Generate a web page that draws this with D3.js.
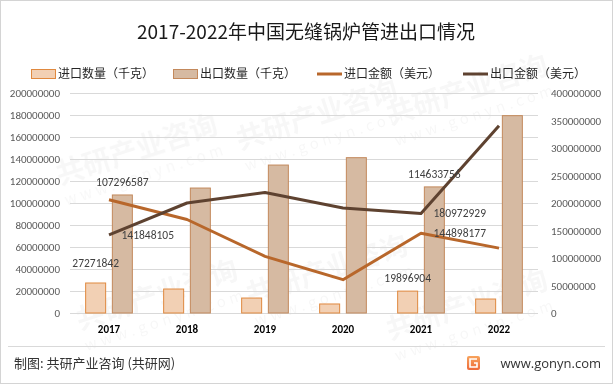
<!DOCTYPE html>
<html><head><meta charset="utf-8">
<script src="https://cdn.jsdelivr.net/npm/d3@7/dist/d3.min.js"></script>
<style>body{margin:0;background:#fff;}svg{display:block;font-family:"Microsoft YaHei","Noto Sans CJK SC",sans-serif;}</style>
</head><body><svg id="c" width="613" height="384"></svg>
<script>
const years = ["2017","2018","2019","2020","2021","2022"];
const importQty = [27271842, 21800000, 13600000, 8200000, 19896904, 12700000];
const exportQty = [107296587, 113600000, 134500000, 141200000, 114633756, 179400000];
const importAmt = [206000000, 170000000, 103000000, 60600000, 144898177, 118000000];
const exportAmt = [141848105, 200000000, 219000000, 191000000, 180972929, 340600000];
const leftTicks = [0,20000000,40000000,60000000,80000000,100000000,120000000,140000000,160000000,180000000,200000000];
const rightTicks = [0,50000000,100000000,150000000,200000000,250000000,300000000,350000000,400000000];
const seriesNames = ["进口数量（千克）","出口数量（千克）","进口金额（美元）","出口金额（美元）"];
const title = "2017-2022年中国无缝锅炉管进出口情况";
// labelled points: [series, index]
const barLabels = [["importQty",0],["exportQty",0],["importQty",4],["exportQty",4]];
const lineLabels = [["exportAmt",0],["exportAmt",4],["importAmt",4]];

const svg = d3.select("#c");
const W=613,H=384;
const cjk = '"Noto Sans CJK SC",sans-serif';
svg.append("rect").attr("x",0.5).attr("y",0.5).attr("width",W-1).attr("height",H-1).attr("fill","#fff").attr("stroke","#d4d4d4");

// watermark
const wm = svg.append("g").attr("opacity",0.035).attr("fill","#000").style("font-family",cjk);
[[60,185],[240,150],[390,125],[80,330],[250,305],[390,340]].forEach(([x,y])=>{
  const g = wm.append("g").attr("transform",`translate(${x},${y}) rotate(-18)`);
  g.append("text").attr("font-size",28).attr("font-weight","bold").text("共研产业咨询");
  g.append("text").attr("y",22).attr("font-size",15).attr("letter-spacing",4).text("www.gonyn.com");
});

const x0 = d3.scaleBand().domain(years).range([70,538]);
const yL = d3.scaleLinear().domain([0,200000000]).range([313,93]);
const yR = d3.scaleLinear().domain([0,400000000]).range([313,93]);

// gridlines
svg.append("g").selectAll("line").data(leftTicks).join("line")
  .attr("x1",70).attr("x2",538).attr("y1",d=>Math.round(yL(d))+0.5).attr("y2",d=>Math.round(yL(d))+0.5)
  .attr("stroke","#d9d9d9").attr("stroke-width",1);

// axes
const axL = svg.append("g").attr("transform","translate(70,0)").call(d3.axisLeft(yL).tickValues(leftTicks).tickSize(0).tickPadding(10).tickFormat(d3.format("d")));
const axR = svg.append("g").attr("transform","translate(538,0)").call(d3.axisRight(yR).tickValues(rightTicks).tickSize(0).tickPadding(13).tickFormat(d3.format("d")));
[axL,axR].forEach(a=>{a.select(".domain").remove();a.selectAll("text").attr("fill","#595959").attr("font-size",11).style("font-family","Calibri,'Liberation Sans',sans-serif");});
const axX = svg.append("g").attr("transform","translate(0,313)").call(d3.axisBottom(x0).tickSize(0).tickPadding(12));
axX.select(".domain").remove();
axX.selectAll("text").attr("fill","#000").attr("font-size",11).attr("font-weight","bold").style("font-family","Calibri,'Liberation Sans',sans-serif");

// bars
const bw = 20, gap = 6.7;
const series = {importQty, exportQty, importAmt, exportAmt};
const barX = (k,i)=> x0(years[i]) + x0.bandwidth()/2 + (k==="importQty" ? -gap/2-bw : gap/2);
svg.append("g").selectAll("rect").data(importQty).join("rect")
  .attr("x",(d,i)=>barX("importQty",i)).attr("width",bw).attr("y",d=>yL(d)).attr("height",d=>yL(0)-yL(d))
  .attr("fill","#F2D0B4").attr("stroke","#E0893F").attr("stroke-width",1);
svg.append("g").selectAll("rect").data(exportQty).join("rect")
  .attr("x",(d,i)=>barX("exportQty",i)).attr("width",bw).attr("y",d=>yL(d)).attr("height",d=>yL(0)-yL(d))
  .attr("fill","#D6BAA2").attr("stroke","#C3895C").attr("stroke-width",1);

// lines
const cx = i => x0(years[i]) + x0.bandwidth()/2;
const lineGen = d3.line().x((d,i)=>cx(i)).y(d=>yR(d));
svg.append("path").datum(importAmt).attr("d",lineGen).attr("fill","none").attr("stroke","#B8672B").attr("stroke-width",3).attr("stroke-linejoin","round");
svg.append("path").datum(exportAmt).attr("d",lineGen).attr("fill","none").attr("stroke","#5E4230").attr("stroke-width",3).attr("stroke-linejoin","round");

// data labels
const lab = svg.append("g").attr("fill","#404040").attr("font-size",11.5).style("font-family","Calibri,'Liberation Sans',sans-serif");
barLabels.forEach(([k,i],j)=>{
  const v = series[k][i];
  const off = (j===0) ? 20 : 13;
  lab.append("text").attr("x",barX(k,i)+bw/2).attr("y",yL(v)-off).attr("dy","0.35em").attr("text-anchor","middle").text(v);
});
lineLabels.forEach(([k,i])=>{
  const v = series[k][i];
  lab.append("text").attr("x",cx(i)+12.5).attr("y",yR(v)).attr("dy","0.35em").attr("text-anchor","start").text(v);
});

// title
svg.append("text").attr("x",306).attr("y",39).attr("text-anchor","middle").attr("font-size",19).attr("fill","#1a1a1a").style("font-family",cjk).text(title);

// legend
const leg = svg.append("g").style("font-family",cjk).attr("font-size",12).attr("fill","#262626");
const lx = [31,173,317,463];
seriesNames.forEach((n,i)=>{
  const x=lx[i], y=74;
  if(i<2){
    leg.append("rect").attr("x",x+0.5).attr("y",y-4.5).attr("width",24).attr("height",9)
      .attr("fill",i===0?"#F2D0B4":"#D6BAA2").attr("stroke",i===0?"#E0893F":"#C3895C");
  } else {
    leg.append("line").attr("x1",x).attr("x2",x+25).attr("y1",y).attr("y2",y).attr("stroke",i===2?"#B8672B":"#5E4230").attr("stroke-width",3);
  }
  leg.append("text").attr("x",x+27).attr("y",y).attr("dy","0.35em").text(n);
});

// footer
svg.append("line").attr("x1",8).attr("x2",605).attr("y1",346.5).attr("y2",346.5).attr("stroke","#d9d9d9");
svg.append("text").attr("x",14).attr("y",363).attr("dy","0.35em").attr("font-size",13).attr("fill","#333").style("font-family",cjk).text("制图: 共研产业咨询 (共研网)");
svg.append("text").attr("x",601).attr("y",363).attr("dy","0.35em").attr("text-anchor","end").attr("font-size",13).attr("fill","#333").style("font-family","'Open Sans','Noto Sans',sans-serif").text("www.gonyn.com");
const defs = svg.append("defs");
const gr = defs.append("linearGradient").attr("id","lg").attr("x1",0).attr("y1",0).attr("x2",0).attr("y2",1);
gr.append("stop").attr("offset",0).attr("stop-color","#F7A35C");
gr.append("stop").attr("offset",1).attr("stop-color","#EE6A3A");
svg.append("rect").attr("x",467).attr("y",356).attr("width",13).attr("height",14).attr("rx",2).attr("fill","url(#lg)");
svg.append("path").attr("d","M477,359 L470,359 L470,367 L477,367 L477,363 L474,363").attr("fill","none").attr("stroke","#fff").attr("stroke-width",1.6);
</script></body></html>
